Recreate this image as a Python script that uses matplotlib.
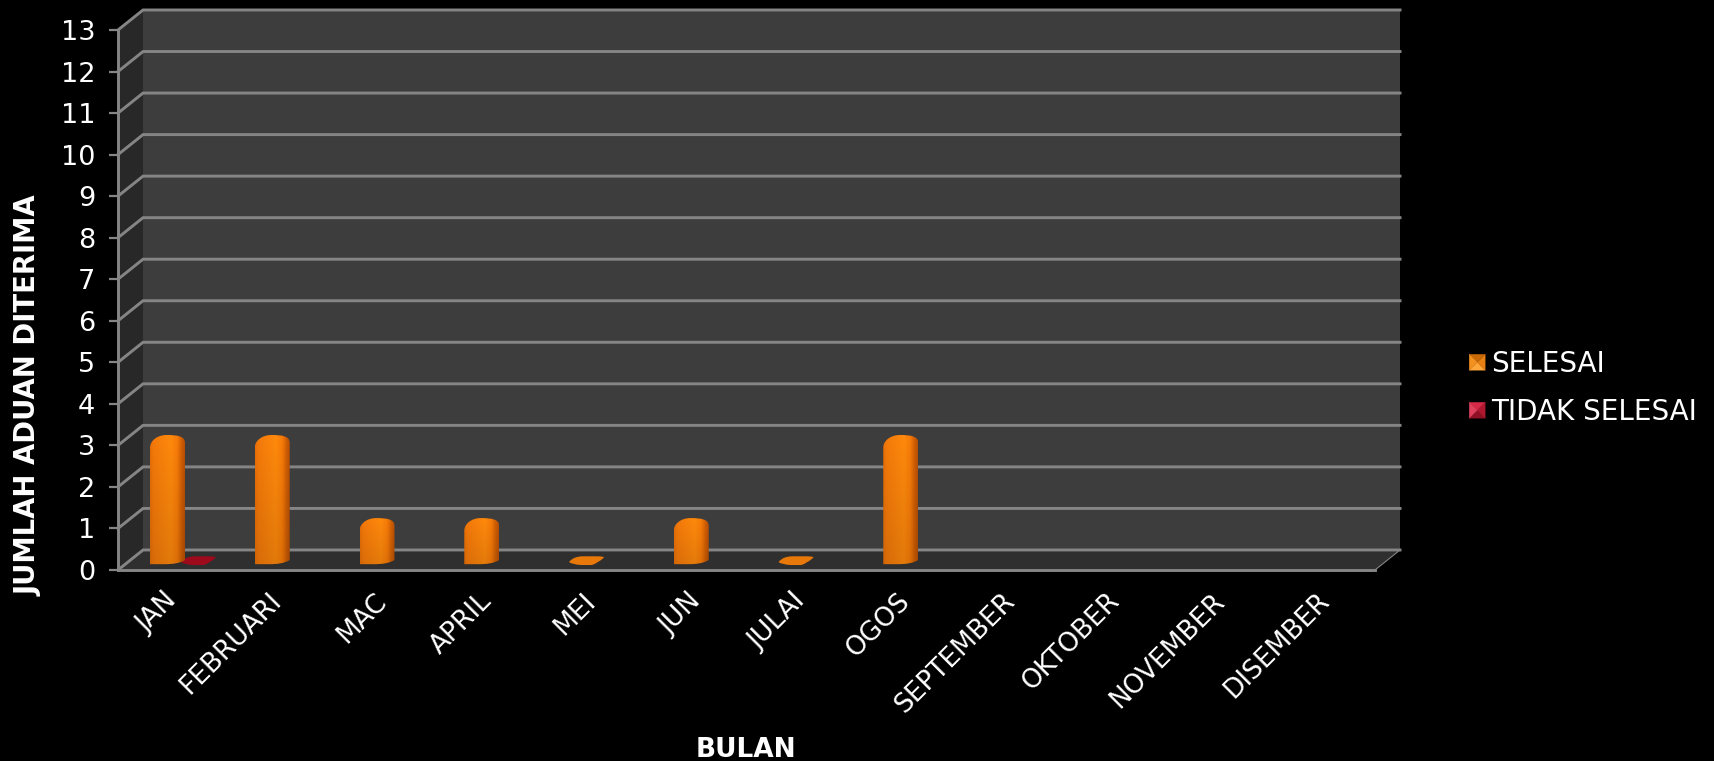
import numpy as np
import matplotlib
matplotlib.use('Agg')
import matplotlib.pyplot as plt
from matplotlib.legend_handler import HandlerBase
from matplotlib.patches import PathPatch, Patch, Polygon
from matplotlib.path import Path

months = ['JAN', 'FEBRUARI', 'MAC', 'APRIL', 'MEI', 'JUN', 'JULAI', 'OGOS',
          'SEPTEMBER', 'OKTOBER', 'NOVEMBER', 'DISEMBER']
selesai = [3, 3, 1, 1, 0, 1, 0, 3, None, None, None, None]
tidak_selesai = [0, None, None, None, None, None, None, None, None, None, None, None]
y_ticks = list(range(14))

plt.rcParams['font.family'] = ['DejaVu Sans']

# depth of the fake 3d box, in data units
DX = 0.239
DY = 0.482
GRID = '#858585'
BAR_W = 0.334


def bar_path(c, v):
    w = BAR_W / 2
    if v == 0:
        # flat ellipse on the floor
        verts = [(c - w, 0.19), (c - w * 0.75, 0.33), (c - w * 0.2, 0.33), (c + w * 0.55, 0.33),
                 (c + w, 0.33), (c + w, 0.30), (c + w * 0.6, 0.15), (c + w * 0.3, 0.12),
                 (c - w * 0.3, 0.12), (c - w * 0.8, 0.13), (c - w, 0.19), (c - w, 0.19)]
        codes = [Path.MOVETO, Path.CURVE3, Path.CURVE3, Path.LINETO,
                 Path.CURVE3, Path.CURVE3, Path.CURVE3, Path.CURVE3,
                 Path.LINETO, Path.CURVE3, Path.CURVE3, Path.CLOSEPOLY]
        return Path(verts, codes)
    top = v + 0.25
    verts = [(c - w, 0.14), (c - w, v - 0.05),
             (c - w, v + 0.1), (c - w * 0.62, top), (c - w * 0.05, top),
             (c + w * 0.6, top), (c + w, v + 0.22), (c + w, v + 0.06),
             (c + w, 0.24),
             (c + w * 0.7, 0.16), (c + w * 0.3, 0.14), (c - w * 0.2, 0.14),
             (c - w, 0.14)]
    codes = [Path.MOVETO, Path.LINETO,
             Path.CURVE4, Path.CURVE4, Path.CURVE4,
             Path.CURVE4, Path.CURVE4, Path.CURVE4,
             Path.LINETO,
             Path.CURVE4, Path.CURVE4, Path.CURVE4,
             Path.CLOSEPOLY]
    return Path(verts, codes)


def orange_image():
    # horizontal shading of the cylinder, a little darker to the floor
    xs = np.linspace(0, 1, 60)
    xp = [0.0, 0.1, 0.6, 0.78, 0.92, 1.0]
    r = np.interp(xs, xp, [232, 245, 255, 248, 205, 186])
    g = np.interp(xs, xp, [112, 122, 138, 124, 92, 80])
    b = np.interp(xs, xp, [8, 10, 12, 8, 4, 4])
    rows = np.linspace(1.0, 0.88, 80)[:, None]
    img = np.dstack([r * rows, g * rows, b * rows]) / 255
    return np.clip(img, 0, 1)


class PyramidHandler(HandlerBase):
    # legend key: square with four shaded triangles
    def create_artists(self, legend, orig, xd, yd, w, h, fontsize, trans):
        shades = orig.get_gid().split(',')
        s = 11.5
        x0 = xd * -1 + w - s
        y0 = (h - s) / 2 - yd
        xc, yc = x0 + s / 2, y0 + s / 2
        corners = [(x0, y0), (x0 + s, y0), (x0 + s, y0 + s), (x0, y0 + s)]
        out = []
        for i, col in enumerate(shades):
            tri = Polygon([corners[i], corners[(i + 1) % 4], (xc, yc)], closed=True,
                          facecolor=col, edgecolor=col, lw=0.2, transform=trans)
            out.append(tri)
        return out


fig = plt.figure(figsize=(17.14, 7.61), dpi=100, facecolor='black')
ax = fig.add_axes([118 / 1714, (761 - 570) / 761, 1257 / 1714, 540 / 761])
ax.set_facecolor('none')

ymax = y_ticks[-1]
n = len(months)

# walls and floor
ax.add_patch(Polygon([(DX, DY), (n + DX, DY), (n + DX, ymax + DY), (DX, ymax + DY)],
                     facecolor='#3d3d3d', edgecolor='none', clip_on=False, zorder=1))
ax.add_patch(Polygon([(0, 0), (DX, DY), (DX, ymax + DY), (0, ymax)],
                     facecolor='#282828', edgecolor='none', clip_on=False, zorder=1))
ax.add_patch(Polygon([(0, 0), (n, 0), (n + DX, DY), (DX, DY)],
                     facecolor='#2f2f2f', edgecolor='none', clip_on=False, zorder=1))

for t in y_ticks:
    ax.plot([0, DX, n + DX], [t, t + DY, t + DY], color=GRID, lw=2.1, clip_on=False,
            zorder=2, solid_joinstyle='miter')
ax.plot([n, n + DX], [0, DY], color=GRID, lw=0.8, clip_on=False, zorder=2)

img = orange_image()
for i, v in enumerate(selesai):
    if v is None:
        continue
    c = i + 0.4726
    p = bar_path(c, v)
    if v == 0:
        ax.add_patch(PathPatch(p, facecolor='#e8780a', edgecolor='none', zorder=4, clip_on=False))
        continue
    im = ax.imshow(img, extent=[c - BAR_W / 2, c + BAR_W / 2, 0, v + 0.3], aspect='auto',
                   zorder=4, interpolation='bilinear')
    im.set_clip_path(PathPatch(p, transform=ax.transData))

for i, v in enumerate(tidak_selesai):
    if v is None:
        continue
    ax.add_patch(PathPatch(bar_path(i + 0.768, v), facecolor='#9c0a1c', edgecolor='none',
                           zorder=3, clip_on=False))

ax.set_xlim(0, n)
ax.set_ylim(0, ymax)

for s in ['top', 'right']:
    ax.spines[s].set_visible(False)
for s in ['left', 'bottom']:
    ax.spines[s].set_color(GRID)
    ax.spines[s].set_linewidth(2.1)
    ax.spines[s].set_zorder(5)

ax.set_yticks(y_ticks)
ax.tick_params(axis='y', colors='white', labelsize=19.5, length=6.5, width=1.6, color=GRID, pad=10)
ax.set_xticks(np.arange(n) + 0.44)
ax.set_xticklabels(months, rotation=45, ha='right', rotation_mode='anchor', color='white', fontsize=19)
ax.tick_params(axis='x', length=0, pad=13)

fig.text(746 / 1714, 1 - 750 / 761, 'BULAN', color='white', fontsize=19, fontweight='bold',
         ha='center', va='center')
fig.text(29 / 1714, 1 - 396 / 761, 'JUMLAH ADUAN DITERIMA', color='white', fontsize=19.8,
         fontweight='bold', rotation=90, ha='center', va='center')

h1 = Patch(gid='#ffa63a,#e87f12,#c96a08,#f5921f', label='SELESAI')
h2 = Patch(gid='#8f0f24,#b01830,#d42a48,#e0405c', label='TIDAK SELESAI')
leg = fig.legend(handles=[h1, h2], handler_map={Patch: PyramidHandler()},
                 loc='center left', bbox_to_anchor=(1463 / 1714, 1 - 388 / 761),
                 frameon=False, fontsize=20, labelcolor='white', labelspacing=0.72,
                 handlelength=0.8, handletextpad=0.22, borderpad=0, borderaxespad=0)

fig.savefig('out.png', dpi=100, facecolor='black')
